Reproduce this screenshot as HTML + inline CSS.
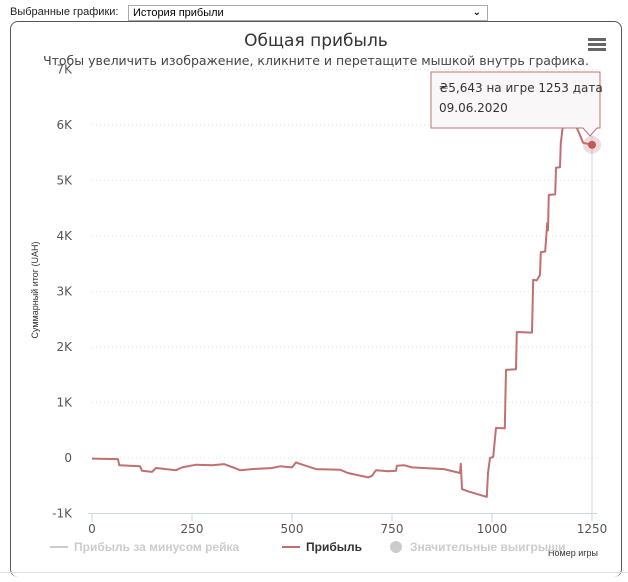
<!DOCTYPE html>
<html><head><meta charset="utf-8"><style>
body{margin:0;width:628px;height:582px;background:#fff;font-family:"Liberation Sans","DejaVu Sans",sans-serif;overflow:hidden;position:relative}
.top{position:absolute;left:10px;top:6px;font-size:11px;color:#222}
.sel{position:absolute;left:128px;top:5px;width:354px;height:14px;border:1px solid #aaa;font-size:11px;line-height:14px;padding-left:4px;box-sizing:content-box}
.box{position:absolute;left:10px;top:21px;width:610px;height:555px;border:1px solid #555;border-radius:8px;border-bottom:none}
</style></head><body>
<div class="top">Выбранные графики:</div>
<div class="sel">История прибыли<span style="position:absolute;right:6px;top:0;font-size:10px;font-weight:bold">&#8964;</span></div>
<div class="box"></div>
<div style="position:absolute;left:0;top:572px;width:628px;border-top:1px solid #ddd"></div>
<svg id="c" width="628" height="582" style="position:absolute;left:0;top:0">
<text x="316" y="46" text-anchor="middle" font-size="17" fill="#333" font-family="DejaVu Sans, sans-serif">Общая прибыль</text>
<text x="316" y="65" text-anchor="middle" font-size="12.5" fill="#444" font-family="DejaVu Sans, sans-serif">Чтобы увеличить изображение, кликните и перетащите мышкой внутрь графика.</text>
<g fill="#666"><rect x="588" y="38" width="18" height="3"/><rect x="588" y="43" width="18" height="3"/><rect x="588" y="48" width="18" height="3"/></g>
<text transform="translate(38,290) rotate(-90)" text-anchor="middle" font-size="9" fill="#333">Суммарный итог (UAH)</text>
<text x="598" y="556" text-anchor="end" font-size="9" fill="#333">Номер игры</text>
<g id="grid" font-family="DejaVu Sans, sans-serif"></g><g id="series"></g>
<g font-size="12" font-weight="bold">
<g><line x1="50" y1="547" x2="68" y2="547" stroke="#ccc" stroke-width="2"/><text x="74" y="551" fill="#ccc">Прибыль за минусом рейка</text></g>
<g><line x1="282" y1="547" x2="300" y2="547" stroke="#c07070" stroke-width="2"/><text x="306" y="551" fill="#333">Прибыль</text></g>
<g><circle cx="396" cy="547" r="6" fill="#ccc"/><text x="410" y="551" fill="#ccc">Значительные выигрыши</text></g>
</g>
<g font-family="DejaVu Sans, sans-serif">
<path d="M431 72 H600 V128 H597 L590 136 L583 128 H431 Z" fill="#f9f7f7" stroke="#c07070"/>
<text x="439" y="92" font-size="12" fill="#333">₴5,643 на игре 1253 дата</text>
<text x="439" y="112" font-size="12" fill="#333">09.06.2020</text>
</g>
</svg>
<script>
const games=[0,65,68,120,125,150,160,210,225,260,300,330,360,370,400,450,470,500,510,530,560,620,640,690,700,710,740,760,762,780,800,880,920,922,925,940,987,990,995,1003,1010,1032,1035,1040,1060,1062,1100,1103,1112,1120,1122,1133,1138,1140,1142,1158,1160,1170,1172,1180,1195,1212,1228,1240,1250];
const profit=[-10,-20,-130,-150,-230,-250,-180,-220,-170,-120,-130,-110,-190,-220,-200,-180,-150,-170,-80,-130,-200,-210,-270,-350,-320,-220,-240,-230,-140,-130,-170,-200,-270,-100,-560,-600,-700,-270,0,20,540,535,1590,1590,1600,2270,2260,3210,3200,3300,3710,3720,4230,4100,4740,4750,5230,5240,5680,6140,6050,5950,5680,5660,5643];
const xTicks=[0,250,500,750,1000,1250];
const yTicks=[-1000,0,1000,2000,3000,4000,5000,6000,7000];
const yLabels=["-1K","0","1K","2K","3K","4K","5K","6K","7K"];
const X=v=>92+v*0.4, Y=v=>458-v*0.0555;
const ns="http://www.w3.org/2000/svg",g=document.getElementById('grid'),s=document.getElementById('series');
function mk(t,a,p){const e=document.createElementNS(ns,t);for(const k in a)e.setAttribute(k,a[k]);p.appendChild(e);return e;}
yTicks.forEach((v,i)=>{
 if(v>-1000){const l=mk('line',{x1:92,x2:597,y1:Y(v),y2:Y(v),stroke:'#e0e0e0','stroke-dasharray':'1,3'},g);
 
 }
 const t=mk('text',{x:72,y:Y(v)+4,'text-anchor':'end','font-size':12,fill:'#555'},g);t.textContent=yLabels[i];
 
 
});
const ax=mk('line',{x1:88,x2:597,y1:Y(-1000),y2:Y(-1000),stroke:'#ccd6eb'},g);


xTicks.forEach(v=>{
 mk('line',{x1:X(v),x2:X(v),y1:Y(-1000),y2:Y(-1000)+8,stroke:'#ccd6eb'},g);
 const t=mk('text',{x:X(v),y:533,'text-anchor':'middle','font-size':12,fill:'#555'},g);t.textContent=v;
 
 
});
const ch=mk('line',{x1:X(1250),x2:X(1250),y1:Y(6000)-10,y2:Y(-1000),stroke:'#ccd6eb'},g);


let d='';games.forEach((v,i)=>{d+=(i?'L':'M')+X(v).toFixed(1)+' '+Y(profit[i]).toFixed(1);});
const p=mk('path',{d:d,fill:'none',stroke:'#c07070','stroke-width':2,'stroke-linejoin':'round'},s);


const n=games.length-1;
const h=mk('circle',{cx:X(games[n]),cy:Y(profit[n]),r:9,fill:'#c07070','fill-opacity':0.25},s);


const pt=mk('circle',{cx:X(games[n]),cy:Y(profit[n]),r:4,fill:'#c05a5a'},s);


</script>
</body></html>
